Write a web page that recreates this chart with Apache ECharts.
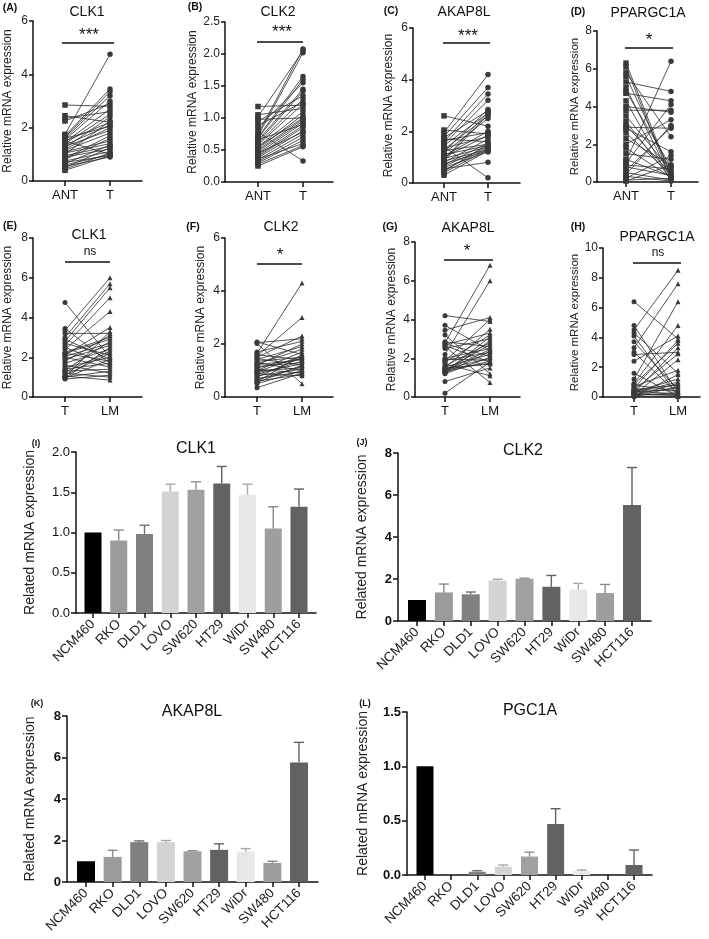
<!DOCTYPE html>
<html><head><meta charset="utf-8">
<script src="https://cdn.jsdelivr.net/npm/echarts@6/dist/echarts.min.js"></script>
<style>html,body{margin:0;padding:0;background:#fff}#c{width:709px;height:939px}</style>
</head><body><div id="c"></div>
<script>
const FONT = 'Arial, "Liberation Sans", Helvetica, sans-serif';

// ---- Paired data (A-D: ANT vs T ; E-H: T vs LM) ----
const A_ANT = [2.85,2.45,2.35,2.25,1.75,1.7,1.65,1.6,1.55,1.5,1.5,1.45,1.4,1.35,1.3,1.25,1.2,1.15,1.1,1.05,1.0,0.95,0.9,0.85,0.8,0.75,0.7,0.65,0.6,0.55,0.5,0.45,0.4,1.6];
const A_T   = [2.8,2.2,2.6,2.9,4.75,3.45,3.35,3.2,3.0,2.2,1.0,2.7,2.5,2.1,1.9,2.4,2.0,1.8,1.5,1.4,2.25,1.3,1.2,1.7,1.6,1.1,0.95,1.35,1.0,0.9,1.25,1.05,0.95,2.05];
const B_ANT = [1.18,1.05,1.02,0.98,0.85,0.75,0.72,0.7,0.68,0.65,0.62,0.6,0.58,0.55,0.52,0.5,0.48,0.45,0.42,0.4,0.38,0.35,0.32,0.3,0.28,0.25,0.78,0.88,0.66,0.55,0.45,0.36,0.95];
const B_T   = [1.2,1.15,2.05,1.0,1.55,2.08,2.02,1.65,1.6,1.45,1.42,1.3,1.22,1.1,1.05,0.98,0.95,0.92,0.88,0.85,0.8,0.75,0.7,0.65,0.57,0.55,0.33,1.25,0.9,1.0,0.78,0.6,1.35];
const C_ANT = [2.6,2.05,1.95,1.8,1.75,1.7,1.6,1.5,1.45,1.4,1.3,1.25,1.2,1.15,1.1,1.05,1.0,0.95,0.9,0.85,0.8,0.75,0.7,0.65,0.6,0.55,0.5,0.45,0.4,0.3,1.35,0.85,1.65];
const C_T   = [2.2,1.9,4.2,3.7,2.8,1.6,3.45,3.2,2.7,0.2,2.6,1.5,2.85,2.5,1.45,2.0,1.85,1.4,2.75,1.3,1.7,1.25,1.55,1.4,1.2,0.8,1.35,1.5,1.3,1.25,1.8,2.65,1.95];
const D_ANT = [6.3,6.1,5.8,5.6,5.3,5.0,4.8,4.7,4.3,4.0,3.8,3.5,3.2,2.9,2.85,2.6,2.3,2.0,1.8,1.5,1.1,1.0,0.9,0.8,0.6,0.5,0.4,0.3,0.2,0.1,0.05,3.0,1.2];
const D_T   = [0.3,0.1,2.4,0.5,4.8,0.2,0.8,4.3,0.05,3.7,3.8,0.6,0.15,2.85,1.6,0.4,0.9,3.3,0.25,1.2,6.4,4.1,0.7,0.35,2.9,0.1,3.0,0.05,1.4,0.2,0.9,0.45,0.3];
const E_T   = [4.75,3.45,3.35,3.2,3.0,2.9,2.8,2.7,2.6,2.5,2.4,2.25,2.2,2.2,2.1,2.05,2.0,1.9,1.8,1.7,1.6,1.5,1.4,1.35,1.3,1.25,1.2,1.1,1.05,1.0,1.0,0.95,0.95,0.9];
const E_LM  = [2.0,1.7,6.0,3.2,5.7,1.9,5.5,2.1,5.0,1.6,4.3,3.0,1.8,2.9,3.5,2.7,1.5,2.6,3.1,2.4,1.2,2.0,1.7,2.8,1.4,2.3,1.0,2.2,0.85,1.3,3.3,1.9,2.5,1.1];
const F_T   = [2.08,2.05,2.02,1.7,1.65,1.6,1.55,1.5,1.45,1.42,1.35,1.3,1.25,1.2,1.15,1.1,1.05,1.0,0.98,0.95,0.92,0.88,0.85,0.8,0.75,0.7,0.65,0.6,0.57,0.55,0.5,0.35,1.22];
const F_LM  = [1.6,2.2,0.5,2.1,4.3,1.4,3.0,2.3,1.2,1.9,1.5,1.0,1.8,2.0,1.3,1.45,0.9,1.7,1.1,1.55,1.25,0.8,1.35,1.05,1.5,0.95,1.15,0.85,1.6,1.2,1.0,0.9,1.4];
const G_T   = [4.2,3.7,3.45,3.2,2.85,2.8,2.75,2.7,2.65,2.6,2.5,2.2,2.0,1.95,1.9,1.85,1.8,1.7,1.6,1.55,1.5,1.5,1.45,1.4,1.4,1.35,1.3,1.3,1.25,1.25,1.2,0.8,0.2];
const G_LM  = [3.9,2.4,4.1,1.2,2.6,6.8,2.1,3.3,1.8,0.75,3.0,6.0,2.5,1.9,2.3,4.0,3.2,1.1,2.8,2.2,1.7,3.5,2.0,2.7,1.75,2.45,3.1,1.85,2.35,2.9,2.05,1.5,1.8];
const H_T   = [6.4,4.8,4.5,4.3,4.1,3.7,3.3,3.0,2.85,2.4,1.6,1.2,0.9,0.85,0.8,0.7,0.6,0.5,0.45,0.4,0.35,0.3,0.25,0.2,0.15,0.1,0.1,0.05,0.05,0.02,0.5,0.3,0.2];
const H_LM  = [3.9,0.3,8.5,1.6,0.1,0.5,7.6,0.2,3.0,4.1,0.05,6.4,4.8,3.6,0.4,1.8,3.8,0.8,2.9,0.2,1.2,3.3,0.6,0.1,2.5,0.9,0.3,1.5,0.05,0.7,0.4,1.0,0.15];

const topPairLabels = ['ANT','T'];
const bottomPairLabels = ['T','LM'];

// ---- Bar data (cell lines) ----
const cellLines = ['NCM460','RKO','DLD1','LOVO','SW620','HT29','WiDr','SW480','HCT116'];
const I_mean  = [1.00,0.90,0.98,1.51,1.53,1.61,1.47,1.05,1.32];
const I_upper = [1.00,1.03,1.09,1.60,1.63,1.82,1.60,1.32,1.54];
const J_mean  = [1.00,1.36,1.27,1.93,2.01,1.63,1.50,1.33,5.52];
const J_upper = [1.00,1.76,1.38,1.99,2.04,2.17,1.79,1.74,7.31];
const K_mean  = [1.00,1.21,1.92,1.92,1.48,1.55,1.47,0.92,5.76];
const K_upper = [1.00,1.53,1.98,2.00,1.51,1.84,1.61,1.00,6.73];
const L_mean  = [1.00,0,0.030,0.077,0.17,0.47,0.037,0,0.092];
const L_upper = [1.00,0,0.040,0.092,0.21,0.61,0.046,0,0.23];

const barColors = ['#000000','#9a9a9a','#808080','#d3d3d3','#a0a0a0','#626262','#e8e8e8','#9e9e9e','#626262'];
const errColors = ['#000000','#8a8a8a','#707070','#a8a8a8','#8f8f8f','#626262','#a8a8a8','#8a8a8a','#626262'];

// ---- Layout ----
const paired = [
  {a:A_ANT,b:A_T,lab:topPairLabels,sy:['rect','circle'],L:33,top:21,bottom:181,end:142,p1:65,p2:110,ymax:6,step:2,gap:19,nfs:12,
   title:'CLK1',tx:87,ty:12,tag:'(A)',gx:10,gy:8,sig:'***',sx:89,sgy:35,ly:43,lx1:62,lx2:114},
  {a:B_ANT,b:B_T,lab:topPairLabels,sy:['rect','circle'],L:225,top:22,bottom:182,end:333,p1:258,p2:303,ymax:2.5,step:0.5,gap:26,nfs:12,dec:1,
   title:'CLK2',tx:278,ty:12,tag:'(B)',gx:195,gy:7,sig:'***',sx:282,sgy:32,ly:42,lx1:257,lx2:303},
  {a:C_ANT,b:C_T,lab:topPairLabels,sy:['rect','circle'],L:413,top:28,bottom:183,end:520,p1:444,p2:488,ymax:6,step:2,gap:18,nfs:12,
   title:'AKAP8L',tx:464,ty:12,tag:'(C)',gx:391,gy:11,sig:'***',sx:468,sgy:36,ly:43,lx1:443,lx2:490},
  {a:D_ANT,b:D_T,lab:topPairLabels,sy:['rect','circle'],L:597,top:31,bottom:182,end:698,p1:626,p2:671,ymax:8,step:2,gap:16,nfs:11.5,
   title:'PPARGC1A',tx:648,ty:13,tag:'(D)',gx:578,gy:12,sig:'*',sx:649,sgy:40,ly:48,lx1:625,lx2:673},
  {a:E_T,b:E_LM,lab:bottomPairLabels,sy:['circle','triangle'],L:33,top:238,bottom:397,end:142,p1:65,p2:110,ymax:8,step:2,gap:19,nfs:12,
   title:'CLK1',tx:89,ty:235,tag:'(E)',gx:10,gy:226,sig:'ns',sx:90,sgy:252,ly:262,lx1:65,lx2:110},
  {a:F_T,b:F_LM,lab:bottomPairLabels,sy:['circle','triangle'],L:225,top:238,bottom:397,end:333,p1:257,p2:302,ymax:6,step:2,gap:18,nfs:12,
   title:'CLK2',tx:281,ty:227,tag:'(F)',gx:193,gy:227,sig:'*',sx:280,sgy:255,ly:264,lx1:257,lx2:302},
  {a:G_T,b:G_LM,lab:bottomPairLabels,sy:['circle','triangle'],L:415,top:242,bottom:397,end:520,p1:445,p2:490,ymax:8,step:2,gap:17,nfs:12,
   title:'AKAP8L',tx:468,ty:228,tag:'(G)',gx:390,gy:227,sig:'*',sx:467,sgy:251,ly:260,lx1:444,lx2:493},
  {a:H_T,b:H_LM,lab:bottomPairLabels,sy:['circle','triangle'],L:603,top:248,bottom:397,end:700,p1:634,p2:678,ymax:10,step:2,gap:22,nfs:11.5,
   title:'PPARGC1A',tx:657,ty:237,tag:'(H)',gx:578,gy:227,sig:'ns',sx:658,sgy:253,ly:263,lx1:633,lx2:681}
];

const bars = [
  {mean:I_mean,up:I_upper,L:76,top:452,bottom:613,c0:93,c8:299,m:17,ymax:2,step:0.5,dec:1,bold:false,gap:39,bw:17,
   title:'CLK1',tx:196,ty:449,tag:'(I)',gx:36,gy:444},
  {mean:J_mean,up:J_upper,L:398,top:453,bottom:621,c0:417,c8:632,m:19,ymax:8,step:2,dec:0,bold:true,gap:29,bw:18,
   title:'CLK2',tx:523,ty:451,tag:'(J)',gx:362,gy:443},
  {mean:K_mean,up:K_upper,L:67,top:716,bottom:882,c0:86,c8:299,m:19,ymax:8,step:2,dec:0,bold:true,gap:30,bw:18,
   title:'AKAP8L',tx:192,ty:712,tag:'(K)',gx:37,gy:704},
  {mean:L_mean,up:L_upper,L:407,top:712,bottom:875,c0:425,c8:634,m:18,ymax:1.5,step:0.5,dec:1,bold:true,gap:37,bw:17,
   title:'PGC1A',tx:530,ty:711,tag:'(L)',gx:365,gy:704}
];

const AX = '#111';
const option = {animation:false, backgroundColor:'#fff', grid:[], xAxis:[], yAxis:[], series:[], graphic:[]};
function txt(x,y,text,size,weight,extra){
  option.graphic.push(Object.assign({type:'text', x:x, y:y, silent:true, z:100,
    style:{text:text, fill:'#111', font:(weight||'normal')+' '+size+'px '+FONT, textAlign:'center', textVerticalAlign:'middle'}}, extra||{}));
}

paired.forEach((p,k)=>{
  option.grid.push({left:p.L, top:p.top, width:p.end-p.L, height:p.bottom-p.top});
  const u = p.p2-p.p1;
  const xmin = 1-(p.p1-p.L)/u;
  const xmax = xmin+(p.end-p.L)/u;
  option.xAxis.push({gridIndex:k, type:'value', min:xmin, max:xmax, splitLine:{show:false},
    axisLine:{show:true,onZero:false,lineStyle:{color:AX,width:1.5}},
    axisTick:{show:true,customValues:[1,2],length:5,lineStyle:{color:AX,width:1.5}},
    axisLabel:{show:true,customValues:[1,2],formatter:v=>p.lab[Math.round(v)-1]||'',fontSize:13,color:AX,margin:8,fontFamily:FONT}});
  option.yAxis.push({gridIndex:k, type:'value', min:0, max:p.ymax, interval:p.step,
    name:'Relative mRNA expression', nameLocation:'middle', nameGap:p.gap,
    nameTextStyle:{fontSize:p.nfs,color:'#222',fontFamily:FONT},
    splitLine:{show:false},
    axisLine:{show:true,onZero:false,lineStyle:{color:AX,width:1.5}},
    axisTick:{show:true,length:4,lineStyle:{color:AX,width:1.5}},
    axisLabel:{fontSize:12,color:'#222',margin:5,fontFamily:FONT,formatter:v=>p.dec?v.toFixed(p.dec):String(v)}});
  for(let i=0;i<p.a.length;i++){
    option.series.push({type:'line', xAxisIndex:k, yAxisIndex:k, silent:true, z:2,
      data:[{value:[1,p.a[i]],symbol:p.sy[0]},{value:[2,p.b[i]],symbol:p.sy[1]}],
      symbolSize:p.sy[0]==='rect'?5.5:5, lineStyle:{color:'#2b2b2b',width:0.8}, itemStyle:{color:'#3a3a3a'}});
  }
  txt(p.tx,p.ty,p.title,14);
  txt(p.gx,p.gy,p.tag,10.5,'bold');
  txt(p.sx,p.sgy,p.sig,p.sig==='ns'?12:17);
  option.graphic.push({type:'line', silent:true, shape:{x1:p.lx1,y1:p.ly,x2:p.lx2,y2:p.ly}, style:{stroke:'#111',lineWidth:1.6}});
});

bars.forEach((b,j)=>{
  const k = paired.length + j;
  const s = (b.c8-b.c0)/8;
  const end = b.c8 + b.m;
  option.grid.push({left:b.L, top:b.top, width:end-b.L, height:b.bottom-b.top});
  const xmin = -(b.c0-b.L)/s, xmax = 8 + b.m/s;
  const idx = cellLines.map((_,i)=>i);
  option.xAxis.push({gridIndex:k, type:'value', min:xmin, max:xmax, splitLine:{show:false},
    axisLine:{show:true,onZero:false,lineStyle:{color:AX,width:1.5}},
    axisTick:{show:true,customValues:idx,length:5,lineStyle:{color:AX,width:1.5}},
    axisLabel:{show:true,customValues:idx,rotate:45,formatter:v=>cellLines[Math.round(v)]||'',fontSize:13.5,color:'#222',margin:9,fontFamily:FONT}});
  option.yAxis.push({gridIndex:k, type:'value', min:0, max:b.ymax, interval:b.step,
    name:'Related mRNA expression', nameLocation:'middle', nameGap:b.gap,
    nameTextStyle:{fontSize:14,color:'#222',fontFamily:FONT},
    splitLine:{show:false},
    axisLine:{show:true,onZero:false,lineStyle:{color:AX,width:1.5}},
    axisTick:{show:true,length:5,lineStyle:{color:AX,width:1.5}},
    axisLabel:{fontSize:13,color:'#111',margin:6,fontFamily:FONT,fontWeight:b.bold?'bold':'normal',
      formatter:v=>b.dec?v.toFixed(b.dec):String(v)}});
  option.series.push({type:'bar', xAxisIndex:k, yAxisIndex:k, barWidth:b.bw, silent:true,
    data:b.mean.map((v,i)=>({value:[i,v], itemStyle:{color:barColors[i]}}))});
  option.series.push({type:'custom', xAxisIndex:k, yAxisIndex:k, silent:true, z:3,
    data:b.mean.map((v,i)=>[i,v,b.up[i]]),
    renderItem:(params,api)=>{
      const x=api.value(0), v=api.value(1), e=api.value(2);
      if(!(e>v)) return null;
      const p0=api.coord([x,v]), p1=api.coord([x,e]);
      const c=errColors[params.dataIndex];
      return {type:'group', children:[
        {type:'line', shape:{x1:p0[0],y1:p0[1],x2:p1[0],y2:p1[1]}, style:{stroke:c,lineWidth:1.4}},
        {type:'line', shape:{x1:p1[0]-5,y1:p1[1],x2:p1[0]+5,y2:p1[1]}, style:{stroke:c,lineWidth:1.4}}
      ]};
    }});
  txt(b.tx,b.ty,b.title,16);
  txt(b.gx,b.gy,b.tag,9,'bold');
});

const chart = echarts.init(document.getElementById('c'), null, {renderer:'canvas'});
chart.setOption(option);
</script></body></html>
